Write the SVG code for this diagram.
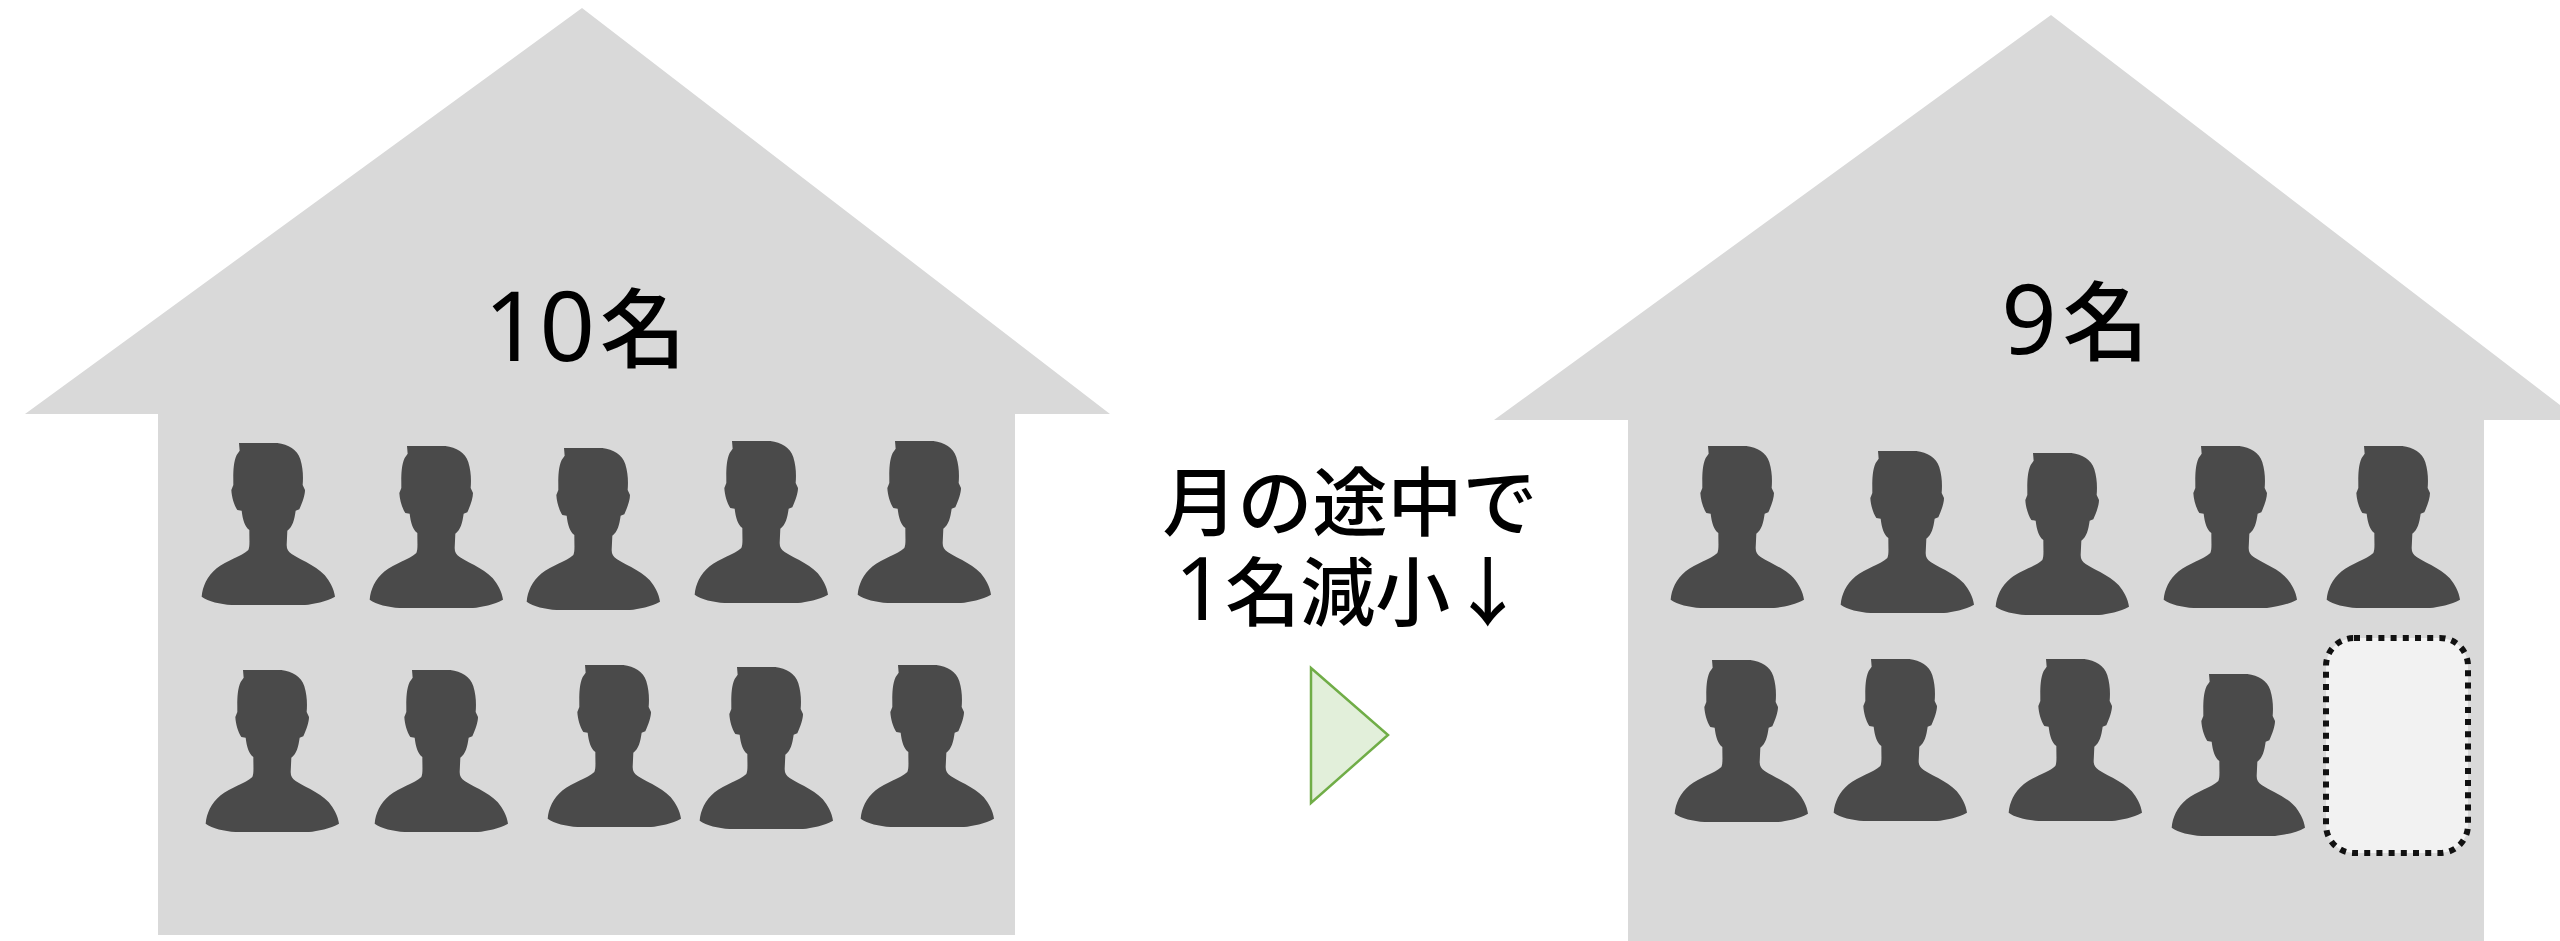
<svg xmlns="http://www.w3.org/2000/svg" width="2560" height="941" viewBox="0 0 2560 941">
<style>
.house{fill:#d9d9d9}
.t{font-family:"Noto Sans","Noto Sans CJK JP",sans-serif;font-weight:500;fill:#000;font-size:75px;text-anchor:middle}
.d{font-size:97px;font-weight:400}
.k{font-size:86px}
.dc{font-size:88px;font-weight:400}
.p{fill:#4a4a4a}
</style>
<defs>
<path id="person" class="p" transform="scale(.33333)" d="M177,69 L292,69 C325,74 352,88 361,118 C369,145 370,170 368,195 L375,210 C375,225 368,245 358,268 L347,272 C343,300 338,320 322,332 L320,375 C320,388 325,395 335,402 C370,425 420,440 445,480 C458,500 463,515 465,530 C440,545 400,552 375,555 L155,555 C120,552 85,545 65,530 C68,500 80,470 110,445 C140,420 185,410 205,390 C210,380 208,360 208,330 C195,320 188,300 185,272 L172,270 C162,255 155,230 154,210 L160,195 C160,170 158,130 170,105 L179,92 Z"/>
</defs>
<rect width="2560" height="941" fill="#fff"/>
<g id="house-left">
<polygon class="house" points="582,8 1110,414 1015,414 1015,935 158,935 158,414 25,414"/>
<text class="t" x="585" y="361"><tspan class="d">10</tspan><tspan class="k" dx="5">名</tspan></text>
<use href="#person" x="180" y="420"/>
<use href="#person" x="348" y="423"/>
<use href="#person" x="505" y="425"/>
<use href="#person" x="673" y="418"/>
<use href="#person" x="836" y="418"/>
<use href="#person" x="184" y="647"/>
<use href="#person" x="353" y="647"/>
<use href="#person" x="526" y="642"/>
<use href="#person" x="678" y="644"/>
<use href="#person" x="839" y="642"/>
</g>
<g id="house-right">
<polygon class="house" points="2051,15 2560,405 2560,420 2484,420 2484,941 1628,941 1628,420 1494,420"/>
<text class="t" x="2075" y="354"><tspan class="d">9</tspan><tspan class="k" dx="6">名</tspan></text>
<use href="#person" x="1649" y="423"/>
<use href="#person" x="1819" y="428"/>
<use href="#person" x="1974" y="430"/>
<use href="#person" x="2142" y="423"/>
<use href="#person" x="2305" y="423"/>
<use href="#person" x="1653" y="637"/>
<use href="#person" x="1812" y="636"/>
<use href="#person" x="1987" y="636"/>
<use href="#person" x="2150" y="651"/>
</g>
<g id="empty-slot">
<rect x="2326" y="638" width="142" height="215" rx="28" fill="#f2f2f2" stroke="#111" stroke-width="6" stroke-dasharray="6 6.2"/>
</g>
<g id="caption">
<text class="t" x="1350" y="530">月の途中で</text>
<text class="t" x="1350" y="620"><tspan class="dc">1</tspan>名減小↓</text>
</g>
<g id="arrow">
<polygon points="1311,668 1388,735 1311,803" fill="#e2efda" stroke="#70ad47" stroke-width="2.5"/>
</g>
</svg>
